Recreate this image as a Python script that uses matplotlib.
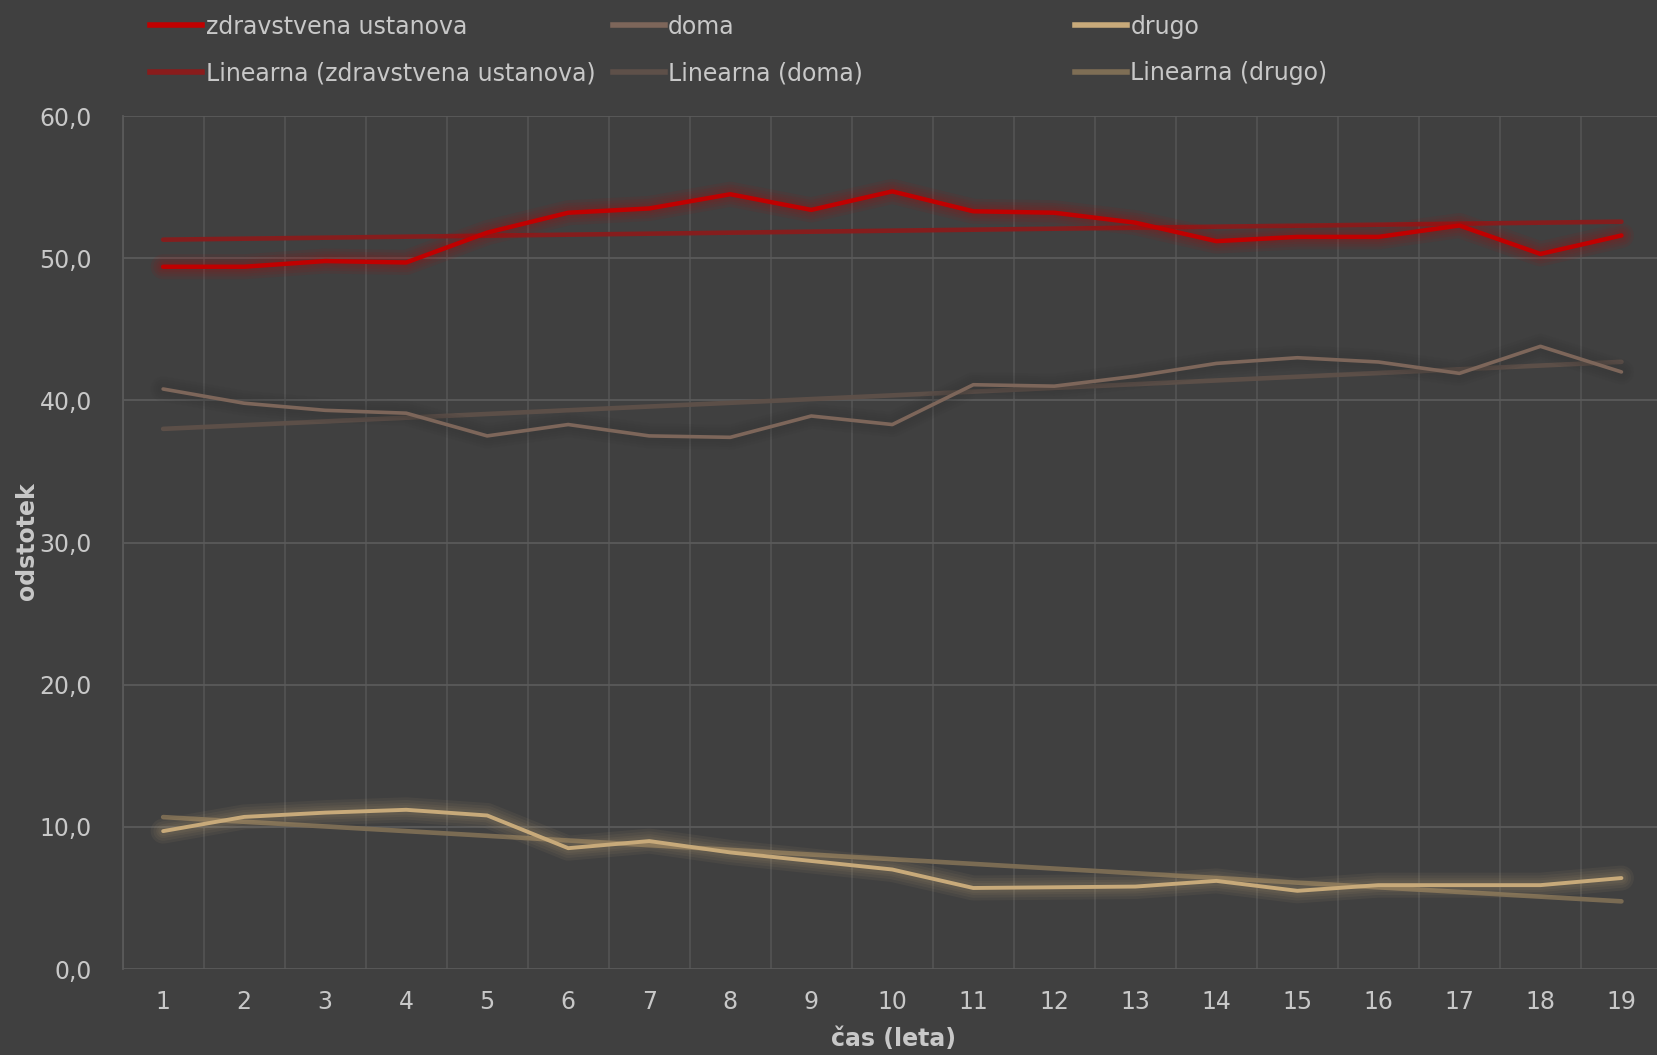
import numpy as np
import matplotlib
matplotlib.use("Agg")
import matplotlib.pyplot as plt
from matplotlib.lines import Line2D
from matplotlib.ticker import FuncFormatter

# podatki (odčitani z grafa)
leta = list(range(1, 20))
zdravstvena = [49.4, 49.4, 49.8, 49.7, 51.8, 53.2, 53.5, 54.5, 53.4, 54.7,
               53.3, 53.2, 52.5, 51.2, 51.5, 51.5, 52.3, 50.3, 51.6]
doma = [40.8, 39.8, 39.3, 39.1, 37.5, 38.3, 37.5, 37.4, 38.9, 38.3,
        41.1, 41.0, 41.7, 42.6, 43.0, 42.7, 41.9, 43.8, 42.0]
drugo = [9.7, 10.7, 11.0, 11.2, 10.8, 8.5, 9.0, 8.2, 7.6, 7.0,
         5.7, 5.75, 5.8, 6.2, 5.5, 5.9, 5.9, 5.9, 6.4]

imena = ["zdravstvena ustanova", "doma", "drugo"]
barve = ["#C00000", "#7D665A", "#C8AA7A"]
barve_trend = ["#8A1C1C", "#5E5049", "#7E6E55"]
barve_sij = ["#C00000", "#2E2E2E", "#C8AA7A"]
debeline = [3.2, 2.6, 2.8]

ozadje = "#404040"
mreza = "#5A5A5A"
besedilo = "#C8C8C8"

plt.rcParams["font.family"] = ["DejaVu Sans"]

fig = plt.figure(figsize=(16.57, 10.55), dpi=100, facecolor=ozadje)
ax = fig.add_axes([0.074, 0.0815, 0.929, 0.8085], facecolor=ozadje)

x = np.array(leta)
serije = [zdravstvena, doma, drugo]
for i, y in enumerate(serije):
    y = np.array(y)
    # linearni trend
    k, n = np.polyfit(x, y, 1)
    ax.plot(x, k * x + n, color=barve_trend[i], lw=3.3, alpha=0.95,
            solid_capstyle="round", zorder=2)
for i, y in enumerate(serije):
    # sij okoli črte
    for w in [18, 14, 10, 7]:
        ax.plot(x, y, color=barve_sij[i], lw=w, alpha=0.07,
                solid_capstyle="round", solid_joinstyle="round", zorder=3)
    ax.plot(x, y, color=barve[i], lw=debeline[i],
            solid_capstyle="round", zorder=4)

ax.set_xlim(0.5, 19.5)
ax.set_ylim(0, 60)
ax.set_yticks(np.arange(0, 61, 10))
ax.set_xticks(leta)
ax.set_xticks(np.arange(0.5, 20, 1), minor=True)
ax.yaxis.set_major_formatter(FuncFormatter(lambda v, p: f"{v:.1f}".replace(".", ",")))

ax.grid(axis="y", which="major", color=mreza, lw=1.3, zorder=0)
ax.grid(axis="x", which="minor", color="#555555", lw=1.1, zorder=0)
ax.grid(axis="x", which="major", visible=False)
ax.set_axisbelow(True)

for s in ["top", "right", "bottom"]:
    ax.spines[s].set_visible(False)
ax.spines["left"].set_color(mreza)
ax.spines["left"].set_linewidth(1.3)

ax.tick_params(axis="both", which="both", length=0, colors=besedilo, labelsize=17)
ax.tick_params(axis="x", pad=15)
ax.tick_params(axis="y", pad=22)

fig.text(0.016, 0.487, "odstotek", rotation=90, ha="center", va="center",
         fontsize=17, fontweight="bold", color=besedilo)
fig.text(0.539, 0.015, "čas (leta)", ha="center", va="center",
         fontsize=17, fontweight="bold", color=besedilo)

# legenda v treh stolpcih z enakim razmikom
stolpci_x = [0.085, 0.364, 0.643]
for i in range(3):
    h = [Line2D([], [], color=barve[i], lw=4),
         Line2D([], [], color=barve_trend[i], lw=4)]
    l = [imena[i], f"Linearna ({imena[i]})"]
    leg = fig.legend(h, l, loc="upper left", bbox_to_anchor=(stolpci_x[i], 0.995),
                     frameon=False, fontsize=17, handlelength=2.2,
                     handletextpad=0.15, labelspacing=0.95, borderaxespad=0.0)
    for t in leg.get_texts():
        t.set_color(besedilo)

fig.savefig("out.png", dpi=100, facecolor=ozadje)
